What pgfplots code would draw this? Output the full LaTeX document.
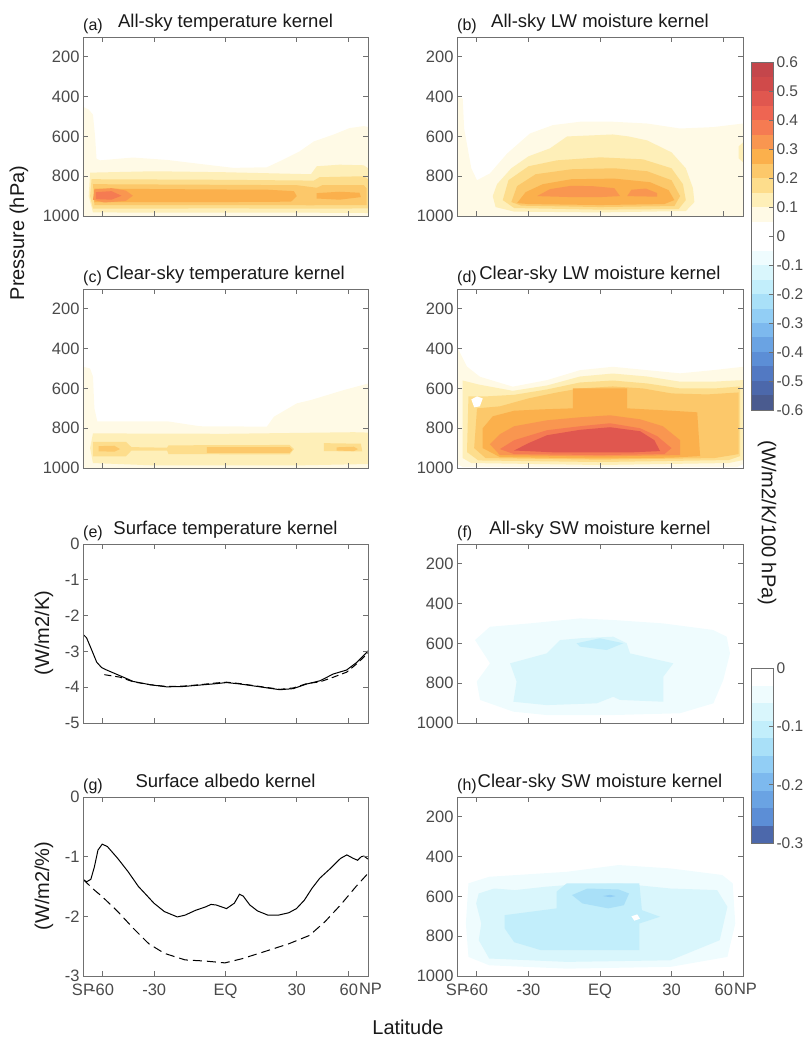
\documentclass[border=0pt]{standalone}
\usepackage{pgfplots}
\pgfplotsset{compat=1.18}
\usepackage{fontspec}
\setmainfont{Liberation Sans}

\definecolor{axgray}{HTML}{707070}
\definecolor{tkgray}{HTML}{4A4A4A}
% warm levels, 0.05 steps
\definecolor{w1}{HTML}{FFFAE6}
\definecolor{w2}{HTML}{FEEFB8}
\definecolor{w3}{HTML}{FDDD8C}
\definecolor{w4}{HTML}{FCC86A}
\definecolor{w5}{HTML}{FBB04C}
\definecolor{w6}{HTML}{F99650}
\definecolor{w7}{HTML}{F57B52}
\definecolor{w8}{HTML}{EE6552}
\definecolor{w9}{HTML}{E0574F}
\definecolor{w10}{HTML}{D04A4A}
\definecolor{w11}{HTML}{C4464B}
% cold levels
\definecolor{c1}{HTML}{EFFCFE}
\definecolor{c2}{HTML}{D9F6FC}
\definecolor{c3}{HTML}{C2EEFB}
\definecolor{c4}{HTML}{A9E0F8}
\definecolor{c5}{HTML}{92CEF5}
\definecolor{c6}{HTML}{7DB9EE}
\definecolor{c7}{HTML}{6AA3E3}
\definecolor{c8}{HTML}{5C8ED6}
\definecolor{c9}{HTML}{5279C3}
\definecolor{c10}{HTML}{4C68AB}
\definecolor{c11}{HTML}{4A5B8F}

\pgfplotsset{
  panel/.style={scale only axis, axis on top, anchor=north west,
    width=285pt, height=179pt, xmin=-1, xmax=1,
    xtick={-1,-0.866,-0.5,0,0.5,0.866,1}, xticklabels={},
    tick align=inside, xtick pos=both, ytick pos=both,
    major tick length=5pt,
    axis line style={axgray, line width=0.9pt},
    tick style={axgray, line width=0.9pt},
    tick label style={font=\fontsize{16.5}{18}\selectfont, text=tkgray},
    xticklabel style={yshift=-4pt},
  },
  kern/.style={panel, y dir=reverse, ymin=100, ymax=1000,
    ytick={200,400,600,800,1000}, yticklabels={200,400,600,800,1000}},
  latlab/.style={xticklabels={SP\hspace{5pt},-60,-30,EQ,30,60,\hspace{5pt}NP}},
  lev/.style={fill=#1, draw=none},
  cbar/.style={scale only axis, axis on top, anchor=north west,
    width=22pt, xmin=0, xmax=1, xtick=\empty,
    ytick pos=right, yticklabel pos=right, tick align=inside,
    major tick length=4pt,
    axis line style={axgray, line width=0.8pt},
    tick style={axgray, line width=0.8pt},
    yticklabel style={font=\fontsize{15.5}{17}\selectfont, text=tkgray, anchor=west}},
}
\newcommand{\band}[3]{\addplot[fill=#1, draw=none] coordinates {(0,#2) (1,#2) (1,#3) (0,#3)} --cycle;}

\begin{document}
\begin{tikzpicture}
\useasboundingbox (0pt,0pt) rectangle (808pt,-1039pt);

% (a) all-sky temperature kernel
\begin{axis}[kern, at={(83pt,-37pt)}]
\addplot[lev=w1] coordinates {(-1,450) (-0.96,465) (-0.93,490) (-0.915,600) (-0.905,712) (-0.88,720) (-0.65,706) (-0.41,718) (-0.18,738) (0.055,758) (0.29,755) (0.38,725) (0.52,675) (0.62,625) (0.76,590) (0.87,558) (0.97,548) (1,552) (1,1000) (-1,1000)} --cycle;
\addplot[lev=w2] coordinates {(-0.95,782) (-0.5,775) (0,780) (0.6,790) (0.64,750) (0.8,742) (0.97,745) (1,760) (1,985) (0.5,983) (-0.5,983) (-0.93,982) (-0.96,900)} --cycle;
\addplot[lev=w3] coordinates {(-0.94,815) (0,818) (0.62,822) (0.66,805) (0.97,800) (1,815) (1,962) (0.6,963) (0,962) (-0.93,963) (-0.95,900)} --cycle;
\addplot[lev=w4] coordinates {(-0.93,840) (0.5,845) (0.64,858) (0.68,845) (0.97,845) (0.99,860) (0.99,945) (0.6,946) (0,945) (-0.92,945)} --cycle;
\addplot[lev=w5] coordinates {(-0.92,862) (-0.4,865) (0.3,868) (0.48,875) (0.5,900) (0.46,928) (0,930) (-0.5,930) (-0.92,930)} --cycle;
\addplot[lev=w5] coordinates {(0.64,885) (0.8,878) (0.94,883) (0.95,905) (0.8,918) (0.64,912)} --cycle;
\addplot[lev=w6] coordinates {(-0.92,866) (-0.8,860) (-0.7,872) (-0.65,898) (-0.7,924) (-0.85,932) (-0.93,918)} --cycle;
\addplot[lev=w7] coordinates {(-0.91,880) (-0.8,875) (-0.73,898) (-0.8,918) (-0.91,915)} --cycle;
\end{axis}

% (b) all-sky LW moisture kernel
\begin{axis}[kern, at={(457pt,-37pt)}, width=286pt]
\addplot[lev=w1] coordinates {(-1,400) (-0.96,410) (-0.95,560) (-0.9,760) (-0.86,820) (-0.77,786) (-0.65,686) (-0.49,585) (-0.33,543) (-0.14,526) (0.09,526) (0.33,535) (0.56,560) (0.79,553) (1,535) (1,1000) (-1,1000)} --cycle;
\addplot[lev=w2] coordinates {(-0.75,900) (-0.72,840) (-0.62,760) (-0.5,700) (-0.35,660) (-0.23,600) (0.09,590) (0.2,600) (0.33,620) (0.5,680) (0.6,760) (0.65,860) (0.66,930) (0.6,975) (0,982) (-0.6,978) (-0.73,955)} --cycle;
\addplot[lev=w2] coordinates {(0.97,650) (1,630) (1,730) (0.97,710)} --cycle;
\addplot[lev=w3] coordinates {(-0.68,920) (-0.64,820) (-0.5,750) (-0.3,720) (0,705) (0.3,715) (0.5,760) (0.58,840) (0.6,920) (0.55,965) (0,968) (-0.6,960)} --cycle;
\addplot[lev=w4] coordinates {(-0.62,930) (-0.58,850) (-0.45,790) (-0.2,765) (0.1,760) (0.33,775) (0.5,820) (0.56,900) (0.52,950) (0,955) (-0.55,948)} --cycle;
\addplot[lev=w5] coordinates {(-0.58,935) (-0.52,880) (-0.4,840) (-0.2,815) (0.1,812) (0.35,830) (0.48,870) (0.52,920) (0.45,940) (0,945) (-0.5,940)} --cycle;
\addplot[lev=w6] coordinates {(-0.44,900) (-0.35,865) (-0.2,848) (-0.05,850) (0.1,860) (0.14,900) (0,905) (-0.2,905)} --cycle;
\addplot[lev=w6] coordinates {(0.19,900) (0.22,868) (0.32,862) (0.4,885) (0.4,903)} --cycle;
\end{axis}

% (c) clear-sky temperature kernel
\begin{axis}[kern, at={(83pt,-289pt)}]
\addplot[lev=w1] coordinates {(-1,490) (-0.95,500) (-0.93,540) (-0.92,700) (-0.9,765) (-0.41,765) (-0.18,790) (0.29,792) (0.34,742) (0.5,675) (0.6,658) (0.83,608) (0.95,585) (1,575) (1,1000) (-1,1000)} --cycle;
\addplot[lev=w2] coordinates {(-0.93,826) (0,828) (0.9,820) (1,822) (1,980) (0.5,987) (-0.5,987) (-0.93,975) (-0.95,900)} --cycle;
\addplot[lev=w3] coordinates {(-0.93,868) (-0.7,868) (-0.66,895) (-0.41,898) (-0.4,886) (0.45,884) (0.48,905) (0.45,932) (-0.4,930) (-0.41,912) (-0.66,912) (-0.7,942) (-0.93,942)} --cycle;
\addplot[lev=w3] coordinates {(0.69,875) (0.95,878) (0.96,917) (0.69,915)} --cycle;
\addplot[lev=w4] coordinates {(-0.89,890) (-0.78,888) (-0.74,905) (-0.78,918) (-0.89,916)} --cycle;
\addplot[lev=w4] coordinates {(-0.13,895) (0.45,895) (0.47,908) (0.45,924) (-0.13,924)} --cycle;
\addplot[lev=w4] coordinates {(0.78,896) (0.9,893) (0.93,905) (0.9,915) (0.78,912)} --cycle;
\end{axis}

% (d) clear-sky LW moisture kernel
\begin{axis}[kern, at={(457pt,-289pt)}, width=286pt]
\addplot[lev=w1] coordinates {(-1,390) (-0.93,490) (-0.84,541) (-0.61,591) (-0.37,558) (-0.14,508) (0.09,491) (0.33,508) (0.56,524) (0.79,508) (1,491) (1,980) (0.96,995) (-0.96,995) (-1,980)} --cycle;
\addplot[lev=w2] coordinates {(-0.96,560) (-0.85,580) (-0.61,612) (-0.37,585) (-0.14,540) (0.09,525) (0.33,540) (0.56,566) (0.79,566) (1,558) (1,960) (0.9,975) (0,985) (-0.9,975) (-0.96,950)} --cycle;
\addplot[lev=w3] coordinates {(-0.92,640) (-0.8,640) (-0.6,632) (-0.37,605) (-0.14,570) (0.09,560) (0.33,575) (0.56,600) (0.8,600) (0.98,590) (0.98,940) (0.9,960) (0,970) (-0.85,962) (-0.93,920)} --cycle;
\addplot[lev=white] coordinates {(-0.9,655) (-0.86,640) (-0.82,650) (-0.84,690) (-0.88,695)} --cycle;
\addplot[lev=w4] coordinates {(-0.86,700) (-0.7,690) (-0.5,650) (-0.3,620) (-0.14,600) (0.09,590) (0.3,600) (0.5,625) (0.75,630) (0.97,620) (0.97,930) (0.8,950) (0,958) (-0.8,950) (-0.88,900)} --cycle;
\addplot[lev=w5] coordinates {(-0.82,800) (-0.75,740) (-0.6,712) (-0.4,705) (-0.19,700) (-0.19,600) (0.19,600) (0.19,700) (0.5,712) (0.68,720) (0.7,940) (0.5,948) (0,952) (-0.7,945) (-0.82,900)} --cycle;
\addplot[lev=w6] coordinates {(-0.77,880) (-0.7,830) (-0.6,790) (-0.37,760) (-0.14,745) (0.07,735) (0.28,755) (0.44,790) (0.56,860) (0.56,935) (0,942) (-0.7,935)} --cycle;
\addplot[lev=w7] coordinates {(-0.7,905) (-0.6,860) (-0.37,810) (-0.14,790) (0.07,775) (0.28,800) (0.4,840) (0.5,900) (0.45,930) (0,935) (-0.6,930)} --cycle;
\addplot[lev=w9] coordinates {(-0.6,912) (-0.5,875) (-0.37,835) (-0.14,808) (0.07,795) (0.28,815) (0.38,860) (0.42,915) (0.2,922) (-0.3,922)} --cycle;
\end{axis}

% (e) surface temperature kernel
\begin{axis}[panel, at={(83pt,-544pt)}, ymin=-5, ymax=0, ytick={-5,-4,-3,-2,-1,0}, yticklabels={-5,-4,-3,-2,-1,0}]
\addplot[black, line width=1pt] coordinates {(-1,-2.52) (-0.975,-2.62) (-0.94,-2.95) (-0.904,-3.3) (-0.87,-3.45) (-0.834,-3.52) (-0.74,-3.68) (-0.647,-3.84) (-0.53,-3.93) (-0.413,-3.99) (-0.296,-3.98) (-0.179,-3.94) (-0.062,-3.90) (0.008,-3.87) (0.102,-3.91) (0.242,-3.99) (0.382,-4.07) (0.476,-4.04) (0.57,-3.91) (0.663,-3.82) (0.757,-3.63) (0.85,-3.52) (0.92,-3.31) (0.998,-3.00) (1,-2.98)};
\addplot[black, line width=1pt, dash pattern=on 7pt off 4pt] coordinates {(-0.85,-3.65) (-0.74,-3.72) (-0.647,-3.85) (-0.53,-3.93) (-0.413,-3.98) (-0.296,-3.97) (-0.179,-3.93) (-0.062,-3.88) (0.008,-3.86) (0.102,-3.9) (0.242,-3.98) (0.382,-4.06) (0.476,-4.02) (0.57,-3.9) (0.663,-3.85) (0.757,-3.72) (0.85,-3.58) (0.92,-3.35) (1,-3.05)};
\end{axis}

% (f) all-sky SW moisture kernel
\begin{axis}[kern, at={(457pt,-544pt)}, width=286pt]
\addplot[lev=c1] coordinates {(-0.874,583) (-0.77,516) (-0.49,499) (-0.14,474) (0.09,482) (0.44,499) (0.79,532) (0.886,566) (0.909,650) (0.862,784) (0.793,901) (0.559,951) (0.093,960) (-0.373,960) (-0.606,943) (-0.839,884) (-0.862,792) (-0.769,700)} --cycle;
\addplot[lev=c2] coordinates {(-0.629,700) (-0.373,650) (-0.28,583) (-0.14,574) (0.093,566) (0.186,599) (0.21,650) (0.513,700) (0.443,767) (0.443,893) (0.14,884) (0.093,868) (-0.023,901) (-0.373,910) (-0.606,893) (-0.583,792)} --cycle;
\addplot[lev=c3] coordinates {(-0.163,599) (0.0,574) (0.163,599) (0.047,633) (-0.14,616)} --cycle;
\end{axis}

% (g) surface albedo kernel
\begin{axis}[panel, latlab, at={(83pt,-797pt)}, ymin=-3, ymax=0, ytick={-3,-2,-1,0}, yticklabels={-3,-2,-1,0}]
\addplot[black, line width=1pt] coordinates {(-1,-1.38) (-0.975,-1.42) (-0.945,-1.38) (-0.92,-1.17) (-0.895,-0.89) (-0.865,-0.79) (-0.829,-0.83) (-0.756,-1.03) (-0.684,-1.25) (-0.611,-1.50) (-0.556,-1.64) (-0.502,-1.78) (-0.429,-1.92) (-0.338,-2.01) (-0.284,-1.98) (-0.211,-1.90) (-0.138,-1.84) (-0.102,-1.80) (-0.065,-1.81) (0.007,-1.87) (0.062,-1.78) (0.098,-1.63) (0.124,-1.66) (0.171,-1.81) (0.225,-1.91) (0.298,-1.98) (0.371,-1.98) (0.444,-1.94) (0.498,-1.87) (0.553,-1.73) (0.607,-1.53) (0.662,-1.36) (0.735,-1.20) (0.807,-1.03) (0.851,-0.97) (0.898,-1.03) (0.927,-1.06) (0.953,-1.00) (0.971,-0.99) (1.0,-1.04)};
\addplot[black, line width=1pt, dash pattern=on 9pt off 5pt] coordinates {(-1,-1.38) (-0.92,-1.56) (-0.865,-1.67) (-0.756,-1.92) (-0.647,-2.20) (-0.538,-2.46) (-0.429,-2.62) (-0.284,-2.73) (-0.138,-2.75) (-0.004,-2.78) (0.116,-2.71) (0.262,-2.60) (0.444,-2.46) (0.589,-2.32) (0.698,-2.09) (0.807,-1.81) (0.916,-1.50) (1,-1.28)};
\end{axis}

% (h) clear-sky SW moisture kernel
\begin{axis}[kern, latlab, at={(457pt,-797pt)}, width=286pt]
\addplot[lev=c1] coordinates {(-0.92,534) (-0.775,501) (-0.232,476) (0.13,442) (0.493,459) (0.855,492) (0.928,534) (0.946,736) (0.891,904) (0.493,954) (-0.232,963) (-0.775,946) (-0.92,904) (-0.938,736)} --cycle;
\addplot[lev=c2] coordinates {(-0.848,585) (-0.739,560) (-0.594,568) (-0.377,551) (-0.232,543) (0.13,534) (0.493,560) (0.819,568) (0.891,652) (0.837,820) (0.493,921) (-0.232,929) (-0.775,912) (-0.848,820) (-0.83,736) (-0.866,635)} --cycle;
\addplot[lev=c3] coordinates {(-0.667,694) (-0.304,660) (-0.304,576) (-0.232,534) (0.275,534) (0.293,669) (0.42,702) (0.348,719) (0.275,736) (0.275,870) (-0.413,870) (-0.6,830) (-0.667,760)} --cycle;
\addplot[lev=white] coordinates {(0.22,700) (0.26,690) (0.28,712) (0.24,722)} --cycle;
\addplot[lev=c4] coordinates {(-0.196,593) (-0.087,560) (0.13,565) (0.203,585) (0.167,644) (0.058,660) (-0.123,635)} --cycle;
\addplot[lev=c5] coordinates {(0.02,598) (0.07,592) (0.11,598) (0.07,604)} --cycle;
\end{axis}

% colour bar for the longwave and temperature kernels
\begin{axis}[cbar, at={(751pt,-62pt)}, height=348pt, ymin=-0.6, ymax=0.6,
  ytick={-0.6,-0.5,-0.4,-0.3,-0.2,-0.1,0,0.1,0.2,0.3,0.4,0.5,0.6},
  yticklabels={-0.6,-0.5,-0.4,-0.3,-0.2,-0.1,0,0.1,0.2,0.3,0.4,0.5,0.6}]
\band{w11}{0.55}{0.6}
\band{w10}{0.5}{0.55}
\band{w9}{0.45}{0.5}
\band{w8}{0.4}{0.45}
\band{w7}{0.35}{0.4}
\band{w6}{0.3}{0.35}
\band{w5}{0.25}{0.3}
\band{w4}{0.2}{0.25}
\band{w3}{0.15}{0.2}
\band{w2}{0.1}{0.15}
\band{w1}{0.05}{0.1}
\band{c1}{-0.1}{-0.05}
\band{c2}{-0.15}{-0.1}
\band{c3}{-0.2}{-0.15}
\band{c4}{-0.25}{-0.2}
\band{c5}{-0.3}{-0.25}
\band{c6}{-0.35}{-0.3}
\band{c7}{-0.4}{-0.35}
\band{c8}{-0.45}{-0.4}
\band{c9}{-0.5}{-0.45}
\band{c10}{-0.55}{-0.5}
\band{c11}{-0.6}{-0.55}
\end{axis}

% colour bar for the shortwave moisture kernels
\begin{axis}[cbar, at={(751pt,-668pt)}, height=175pt, ymin=-0.3, ymax=0,
  ytick={-0.3,-0.2,-0.1,0}, yticklabels={-0.3,-0.2,-0.1,0}]
\band{c1}{-0.06}{-0.03}
\band{c2}{-0.09}{-0.06}
\band{c3}{-0.12}{-0.09}
\band{c4}{-0.15}{-0.12}
\band{c5}{-0.18}{-0.15}
\band{c6}{-0.21}{-0.18}
\band{c7}{-0.24}{-0.21}
\band{c8}{-0.27}{-0.24}
\band{c10}{-0.3}{-0.27}
\end{axis}

% titles and panel letters
\begin{scope}[every node/.style={anchor=base, font=\fontsize{18.5}{21}\selectfont, text=black!90}]
\node at (225.5pt,-27pt) {All-sky temperature kernel};
\node at (600pt,-27pt) {All-sky LW moisture kernel};
\node at (225.5pt,-279pt) {Clear-sky temperature kernel};
\node at (600pt,-279pt) {Clear-sky LW moisture kernel};
\node at (225.5pt,-534pt) {Surface temperature kernel};
\node at (600pt,-534pt) {All-sky SW moisture kernel};
\node at (225.5pt,-787pt) {Surface albedo kernel};
\node at (600pt,-787pt) {Clear-sky SW moisture kernel};
\end{scope}
\begin{scope}[every node/.style={anchor=base west, inner sep=0pt, font=\fontsize{16}{18}\selectfont, text=black!90}]
\node at (83pt,-30.5pt) {(a)};
\node at (457pt,-30.5pt) {(b)};
\node at (83pt,-282.5pt) {(c)};
\node at (457pt,-282.5pt) {(d)};
\node at (83pt,-537.5pt) {(e)};
\node at (457pt,-537.5pt) {(f)};
\node at (83pt,-790.5pt) {(g)};
\node at (457pt,-790.5pt) {(h)};
\end{scope}

% axis labels
\begin{scope}[every node/.style={font=\fontsize{20}{22}\selectfont, text=black!90}]
\node[rotate=90] at (19pt,-233pt) {Pressure (hPa)};
\node[rotate=90] at (44pt,-633pt) {(W/m2/K)};
\node[rotate=90] at (44pt,-886pt) {(W/m2/\%)};
\node[rotate=-90] at (767pt,-523pt) {(W/m2/K/100 hPa)};
\node at (408pt,-1027pt) {Latitude};
\end{scope}
\end{tikzpicture}
\end{document}
